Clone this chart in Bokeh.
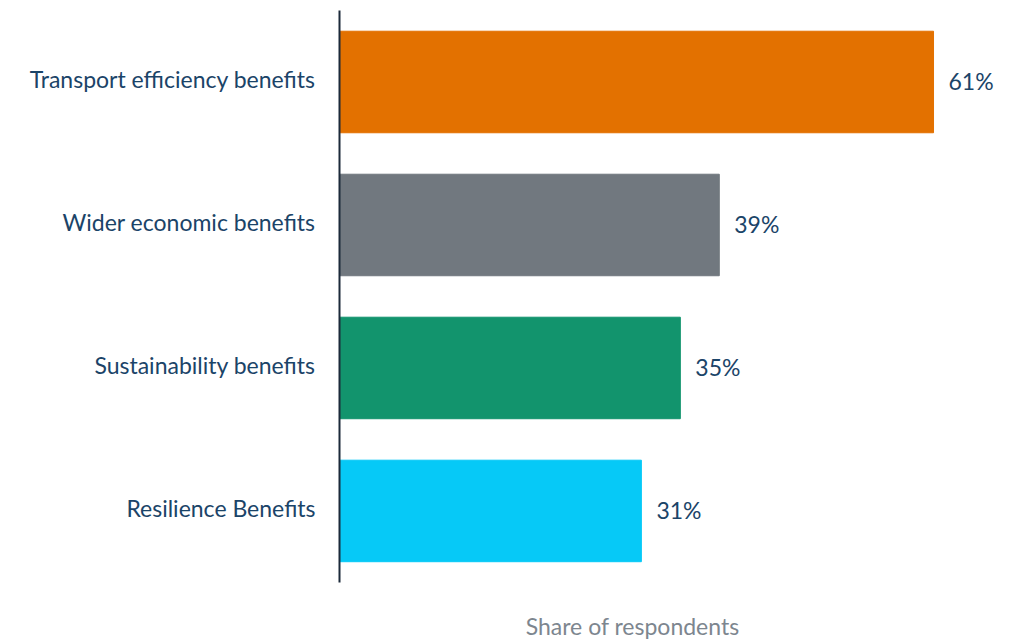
from bokeh.plotting import figure
from bokeh.models import Range1d, ColumnDataSource, Label, FixedTicker
from bokeh.core.properties import value
from bokeh.embed import file_html
from bokeh.resources import INLINE

# Categories listed bottom to top
categories = ["Resilience Benefits", "Sustainability benefits",
              "Wider economic benefits", "Transport efficiency benefits"]
shares = [31, 35, 39, 61]
colors = ["#06c9f7", "#12946d", "#71787f", "#e37100"]
value_labels = [f"{v}%" for v in shares]
x_title = "Share of respondents"

FONT = "Lato"
FONT_SIZE = "23px"
TEXT_COLOR = "#1b4468"

rows = list(range(len(categories)))
src = ColumnDataSource(dict(row=rows, share=shares, color=colors, label=value_labels))

# numeric rows so there is room below the bars for the axis title
p = figure(width=1018, height=640, output_backend="svg", toolbar_location=None,
           y_range=Range1d(-0.906, 3.5), x_range=Range1d(0, 68.7),
           min_border_left=339, min_border_right=10, min_border_top=10,
           min_border_bottom=0)

p.hbar(y="row", right="share", left=0, height=0.71, color="color", source=src)
p.text(x="share", y="row", text="label", source=src, x_offset=15, y_offset=-1,
       text_baseline="middle", text_align="left", text_font=value(FONT),
       text_font_size=FONT_SIZE, text_color=TEXT_COLOR)

p.outline_line_color = None
p.xgrid.visible = False
p.ygrid.visible = False
p.xaxis.visible = False

ya = p.yaxis[0]
label_shift = 0.021  # nudges the category names to the bar centres
ticks = [r + label_shift for r in rows]
ya.ticker = FixedTicker(ticks=ticks)
ya.major_label_overrides = {t: c for t, c in zip(ticks, categories)}
ya.bounds = (-0.5, 3.5)
ya.axis_line_color = "#1c2a3a"
ya.axis_line_width = 2
ya.major_tick_line_color = None
ya.minor_tick_line_color = None
ya.major_label_standoff = 18
ya.major_label_text_font = FONT
ya.major_label_text_font_size = FONT_SIZE
ya.major_label_text_color = TEXT_COLOR

p.add_layout(Label(x=30.1, y=-0.805, text=x_title, text_align="center",
                   text_baseline="middle", text_font=FONT, text_font_size=FONT_SIZE,
                   text_color="#7d868f"))

open("out.html", "w").write(file_html(p, INLINE))
